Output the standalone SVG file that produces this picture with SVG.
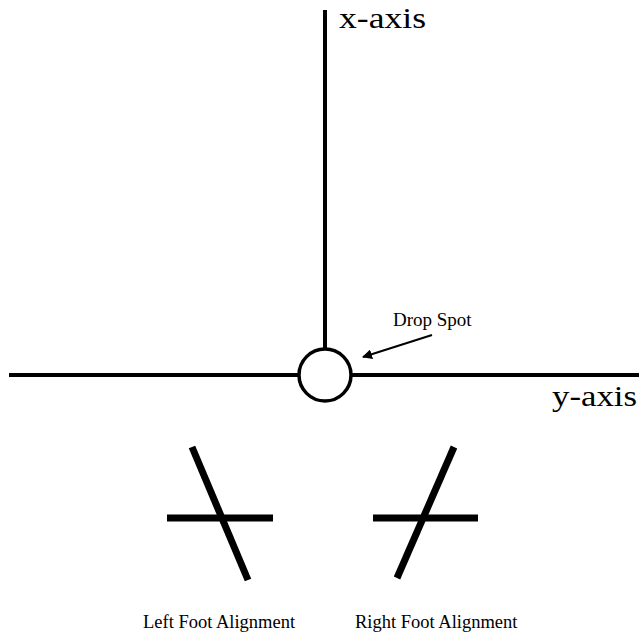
<svg xmlns="http://www.w3.org/2000/svg" width="639" height="635" viewBox="0 0 639 635">
  <style>
    .axis { stroke: #000; stroke-width: 4; fill: none; }
    .foot { stroke: #000; stroke-width: 7; fill: none; }
    .lbl { font-family: "Liberation Serif", "Times New Roman", serif; fill: #000; }
  </style>
  <defs>
    <marker id="arrow" viewBox="0 0 10 10" refX="9" refY="5" markerWidth="5" markerHeight="5" orient="auto" markerUnits="strokeWidth">
      <path d="M0,0 L10,5 L0,10 z" fill="#000"/>
    </marker>
  </defs>
  <rect width="639" height="635" fill="#fff"/>

  <g id="connectors">
    <line class="axis" x1="325" y1="10" x2="325" y2="349"/>
    <line class="axis" x1="9" y1="375" x2="299" y2="375"/>
    <line class="axis" x1="351" y1="375" x2="639" y2="375"/>
    <line x1="432" y1="335" x2="363" y2="357" stroke="#000" stroke-width="2" marker-end="url(#arrow)"/>
  </g>

  <g id="drop-spot">
    <circle cx="325" cy="375" r="26" fill="#fff" stroke="#000" stroke-width="3.5"/>
    <text class="lbl" x="393" y="326" font-size="19">Drop Spot</text>
  </g>

  <g id="x-axis-label">
    <text class="lbl" x="339" y="28" font-size="30" textLength="87" lengthAdjust="spacingAndGlyphs">x-axis</text>
  </g>

  <g id="y-axis-label">
    <text class="lbl" x="552" y="406" font-size="30" textLength="85" lengthAdjust="spacingAndGlyphs">y-axis</text>
  </g>

  <g id="left-foot">
    <line class="foot" x1="167" y1="518" x2="273" y2="518"/>
    <line class="foot" x1="192" y1="447" x2="248" y2="580"/>
    <text class="lbl" x="143" y="628" font-size="18.5">Left Foot Alignment</text>
  </g>

  <g id="right-foot">
    <line class="foot" x1="373" y1="518" x2="478" y2="518"/>
    <line class="foot" x1="454" y1="447" x2="397" y2="578"/>
    <text class="lbl" x="355" y="628" font-size="18.5">Right Foot Alignment</text>
  </g>
</svg>
